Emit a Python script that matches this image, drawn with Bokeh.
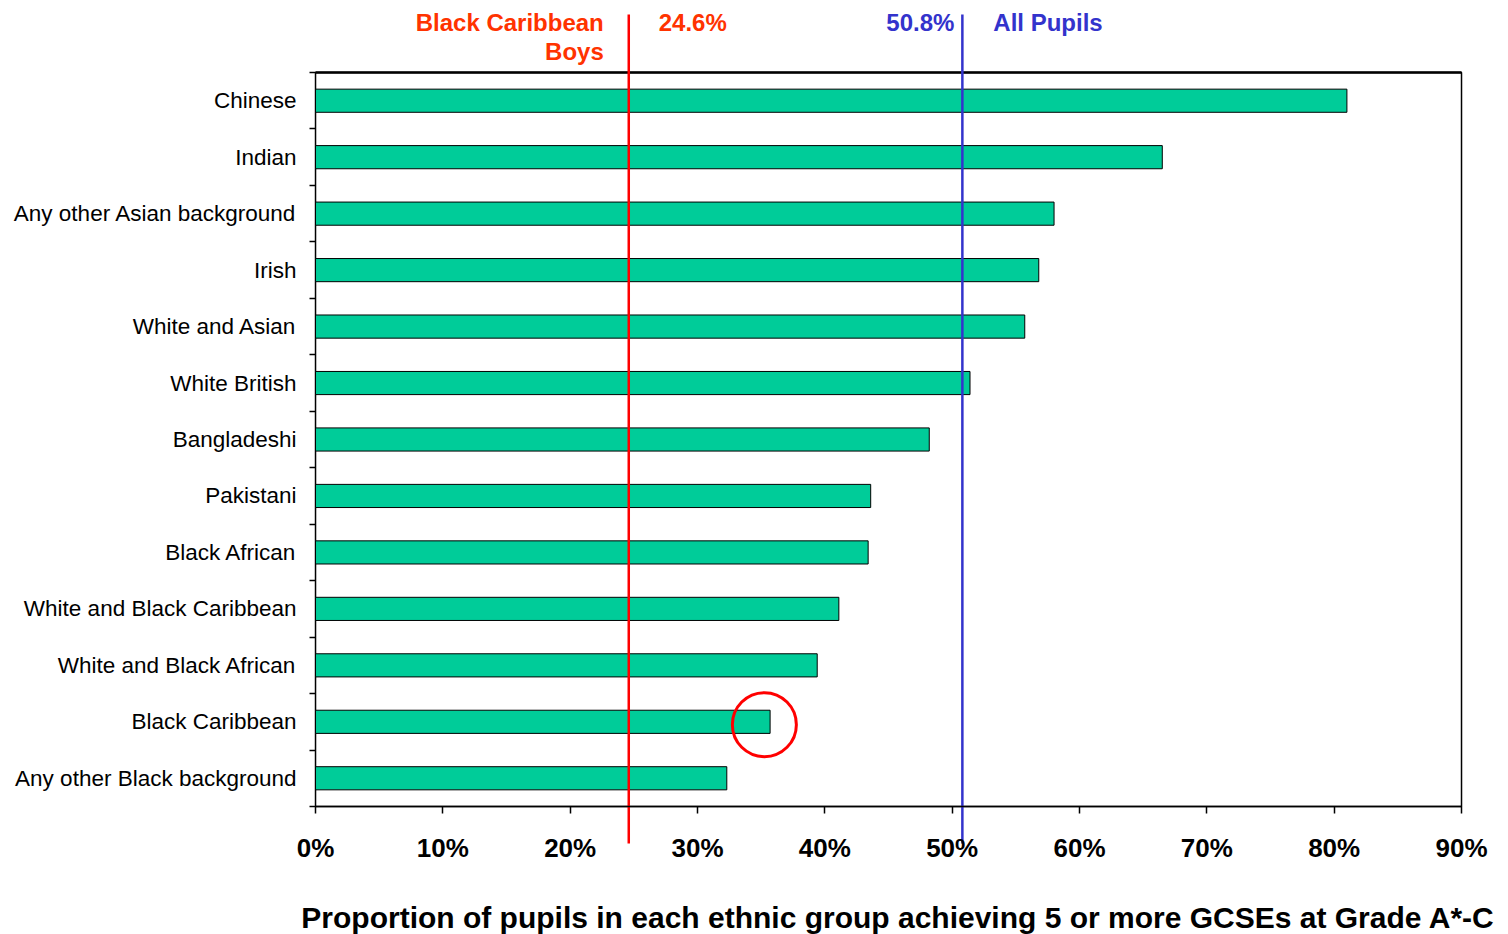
from bokeh.plotting import figure
from bokeh.models import FixedTicker, Label, PrintfTickFormatter, Range1d
from bokeh.embed import file_html
from bokeh.resources import INLINE

# ---- data ----
groups = ["Chinese", "Indian", "Any other Asian background", "Irish", "White and Asian",
          "White British", "Bangladeshi", "Pakistani", "Black African",
          "White and Black Caribbean", "White and Black African", "Black Caribbean",
          "Any other Black background"]
values = [81.0, 66.5, 58.0, 56.8, 55.7, 51.4, 48.2, 43.6, 43.4, 41.1, 39.4, 35.7, 32.3]
x_ticks = [0, 10, 20, 30, 40, 50, 60, 70, 80, 90]
black_caribbean_boys = 24.6
all_pupils = 50.8
highlight = "Black Caribbean"
ref_label_left = ["Black Caribbean", "Boys"]
ref_label_right = "All Pupils"
x_title = "Proportion of pupils in each ethnic group achieving 5 or more GCSEs at Grade A*-C"

FONT = "Liberation Sans"
RED_TXT = "#FF3300"
RED = "#FF0000"
BLUE = "#3333CC"

n = len(groups)
ypos = [n - i - 0.5 for i in range(n)]

# whole canvas is the frame; box spans x 0..90, y 0..n
W, H = 1508, 934
p = figure(width=W, height=H,
           x_range=Range1d(-24.74, 93.69), y_range=Range1d(-2.267, n + 1.275),
           output_backend="svg", toolbar_location=None,
           min_border_left=0, min_border_right=0, min_border_top=0, min_border_bottom=0)
p.outline_line_color = None
p.grid.visible = False
p.background_fill_color = "white"
p.border_fill_color = "white"

# x axis at the bottom of the box
xa = p.xaxis[0]
xa.fixed_location = 0
xa.bounds = (x_ticks[0], x_ticks[-1])
xa.ticker = FixedTicker(ticks=x_ticks)
xa.formatter = PrintfTickFormatter(format="%d%%")
xa.major_tick_out = 7
xa.major_tick_in = 0
xa.minor_tick_out = 0
xa.minor_tick_in = 0
xa.axis_line_width = 1.5
xa.axis_line_color = "black"
xa.major_tick_line_width = 1.5
xa.major_label_text_font = FONT
xa.major_label_text_font_size = "26px"
xa.major_label_text_font_style = "bold"
xa.major_label_text_color = "black"
xa.major_label_standoff = 20

ya = p.yaxis[0]
ya.fixed_location = 0
ya.bounds = (0, n)
ya.ticker = FixedTicker(ticks=ypos, minor_ticks=list(range(n + 1)))
ya.major_label_overrides = {y: g for y, g in zip(ypos, groups)}
ya.major_tick_out = 0
ya.major_tick_in = 0
ya.minor_tick_out = 6
ya.minor_tick_in = 0
ya.minor_tick_line_color = "black"
ya.minor_tick_line_width = 1.5
ya.axis_line_color = None
ya.major_label_text_font = FONT
ya.major_label_text_font_size = "22.5px"
ya.major_label_text_color = "black"
ya.major_label_standoff = 13

# box
p.quad(left=[x_ticks[0]], right=[x_ticks[-1]], bottom=[0], top=[n],
       fill_color=None, line_color="black", line_width=1.5)
p.segment(x0=[x_ticks[0]], x1=[x_ticks[-1]], y0=[n], y1=[n],
          line_color="black", line_width=2.5)

# bars
p.hbar(y=ypos, left=0, right=values, height=0.41,
       fill_color="#00CC99", line_color="black", line_width=1)

# highlight circle (drawn slightly inside the bar end)
idx = groups.index(highlight)
circle_dx, circle_dy = -0.45, -0.05
p.scatter(x=[values[idx] + circle_dx], y=[ypos[idx] + circle_dy], size=64, marker="circle",
          fill_color=None, line_color=RED, line_width=3)

# reference lines (extend beyond the box)
line_bottom, line_top = -0.655, n + 1.027
p.segment(x0=[black_caribbean_boys], x1=[black_caribbean_boys], y0=[line_bottom], y1=[line_top],
          line_color=RED, line_width=2.5)
p.segment(x0=[all_pupils], x1=[all_pupils], y0=[line_bottom], y1=[line_top],
          line_color=BLUE, line_width=2.5)

def lab(x, y, text, color, align, xoff, size="24px", style="bold"):
    p.add_layout(Label(x=x, y=y, x_offset=xoff, text=text, text_align=align,
                       text_baseline="alphabetic", text_color=color,
                       text_font=FONT, text_font_size=size, text_font_style=style))

top_y1, top_y2 = n + 0.89, n + 0.38
lab(black_caribbean_boys, top_y1, ref_label_left[0], RED_TXT, "right", -25)
lab(black_caribbean_boys, top_y2, ref_label_left[1], RED_TXT, "right", -25)
lab(black_caribbean_boys, top_y1, f"{black_caribbean_boys:.1f}%", RED_TXT, "left", 30)
lab(all_pupils, top_y1, f"{all_pupils:.1f}%", BLUE, "right", -8)
lab(all_pupils, top_y1, ref_label_right, BLUE, "left", 31)

# x title
lab(45.75, -1.97, x_title, "black", "center", 0, size="30px")

open("out.html", "w").write(file_html(p, INLINE))
